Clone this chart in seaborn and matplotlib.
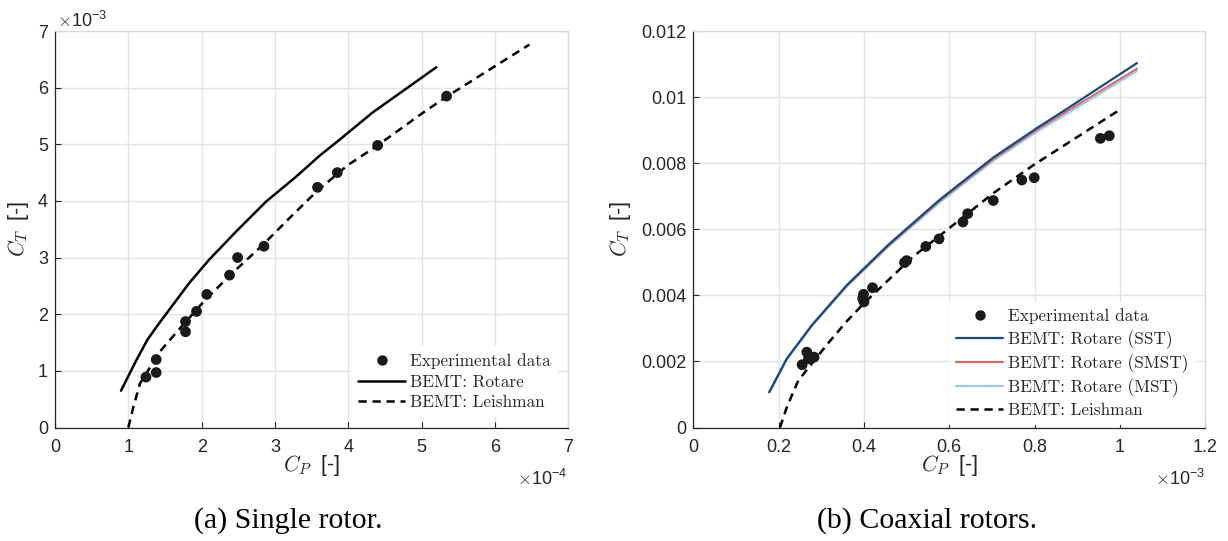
import matplotlib
matplotlib.use("Agg")
import matplotlib.pyplot as plt
from matplotlib.lines import Line2D
from matplotlib.ticker import FuncFormatter, MultipleLocator
import seaborn as sns

# ---------------- single rotor (C_P in 1e-4, C_T in 1e-3) ----------------
single_exp_cp = [1.24, 1.38, 1.38, 1.78, 1.78, 1.93, 2.07, 2.38, 2.49, 2.85,
                 3.58, 3.85, 4.40, 5.34]
single_exp_ct = [0.89, 0.97, 1.20, 1.69, 1.87, 2.05, 2.35, 2.69, 3.00, 3.20,
                 4.24, 4.50, 4.98, 5.85]

single_rotare_cp = [0.90, 1.11, 1.26, 1.42, 1.83, 2.10, 2.47, 2.88, 3.29,
                    3.61, 3.88, 4.33, 5.20]
single_rotare_ct = [0.65, 1.19, 1.55, 1.84, 2.55, 2.96, 3.46, 3.99, 4.43,
                    4.80, 5.08, 5.56, 6.36]

single_leish_cp = [1.00, 1.07, 1.16, 1.43, 1.65, 2.06, 2.48, 2.84, 3.20,
                   3.57, 3.99, 4.40, 5.01, 5.34, 5.83, 6.47]
single_leish_ct = [0.00, 0.37, 0.78, 1.34, 1.67, 2.27, 2.80, 3.23, 3.70,
                   4.17, 4.63, 4.98, 5.55, 5.84, 6.24, 6.76]

# ---------------- coaxial rotors (C_P in 1e-3, C_T in 1e-3) ----------------
coax_exp_cp = [0.255, 0.266, 0.270, 0.283, 0.397, 0.399, 0.400, 0.420, 0.495,
               0.500, 0.545, 0.576, 0.632, 0.643, 0.703, 0.770, 0.799, 0.954,
               0.975]
coax_exp_ct = [1.90, 2.28, 2.08, 2.13, 3.91, 4.03, 3.80, 4.23, 4.99,
               5.05, 5.48, 5.71, 6.22, 6.47, 6.87, 7.49, 7.56, 8.75,
               8.83]

coax_rotare_cp = [0.178, 0.219, 0.278, 0.360, 0.457, 0.578, 0.703, 0.805,
                  0.868, 1.040]
coax_sst_ct = [1.07, 2.08, 3.10, 4.31, 5.53, 6.90, 8.17, 9.06, 9.58, 11.03]
coax_smst_ct = [1.07, 2.08, 3.09, 4.29, 5.50, 6.86, 8.12, 9.01, 9.51, 10.86]
coax_mst_ct = [1.06, 2.06, 3.07, 4.27, 5.47, 6.82, 8.07, 8.95, 9.44, 10.79]

coax_leish_cp = [0.2033, 0.219, 0.246, 0.314, 0.360, 0.400, 0.453, 0.516,
                 0.586, 0.704, 0.797, 1.000]
coax_leish_ct = [0.00, 0.61, 1.42, 2.52, 3.22, 3.76, 4.41, 5.18,
                 5.89, 7.10, 7.94, 9.62]

single_labels = ["Experimental data", "BEMT: Rotare", "BEMT: Leishman"]
coax_labels = ["Experimental data", "BEMT: Rotare (SST)",
               "BEMT: Rotare (SMST)", "BEMT: Rotare (MST)", "BEMT: Leishman"]

# ---------------- styling ----------------
sns.set_theme(style="whitegrid")
plt.rcParams["font.family"] = ["Liberation Sans", "DejaVu Sans"]
plt.rcParams["mathtext.fontset"] = "cm"

INK = "#262626"
DOT = "#1a1a1a"
GRID = "#e3e3e3"
SST_C = "#174b7c"
SMST_C = "#d36b6b"
MST_C = "#a3c7e6"
DASH = (3.3, 2.3)

W, H = 1228, 541
fig = plt.figure(figsize=(W / 100, H / 100), dpi=100)
fig.patch.set_facecolor("white")


def px_axes(x0, x1, y_top, y_bot):
    return fig.add_axes([x0 / W, 1 - y_bot / H, (x1 - x0) / W, (y_bot - y_top) / H])


ax1 = px_axes(55, 568.3, 31, 427.5)
ax2 = px_axes(693.3, 1205.3, 31, 427.5)


def style_axes(ax):
    ax.set_facecolor("white")
    ax.grid(True, color=GRID, linewidth=1.0)
    ax.set_axisbelow(True)
    for side in ("left", "bottom"):
        ax.spines[side].set_color(INK)
        ax.spines[side].set_linewidth(0.9)
    for side in ("top", "right"):
        ax.spines[side].set_color("#d8d8d8")
        ax.spines[side].set_linewidth(0.9)
    ax.tick_params(axis="both", direction="in", length=4, width=0.8,
                   color=INK, labelcolor=INK, labelsize=13,
                   top=False, right=False, bottom=True, left=True)
    ax.tick_params(axis="x", pad=8)
    ax.tick_params(axis="y", pad=5)


# ---------------- (a) single rotor ----------------
style_axes(ax1)
sns.lineplot(x=single_rotare_cp, y=single_rotare_ct, ax=ax1, color="black",
             linewidth=1.8, sort=False, estimator=None, zorder=3)
sns.lineplot(x=single_leish_cp, y=single_leish_ct, ax=ax1, color="black",
             linewidth=1.8, sort=False, estimator=None, zorder=3)
ax1.lines[-1].set_dashes(DASH)
sns.scatterplot(x=single_exp_cp, y=single_exp_ct, ax=ax1, s=60, color=DOT,
                edgecolor="none", linewidth=0, zorder=5)
ax1.set_xlim(0, 7)
ax1.set_ylim(0, 7)
ax1.xaxis.set_major_locator(MultipleLocator(1))
ax1.yaxis.set_major_locator(MultipleLocator(1))
ax1.xaxis.set_major_formatter(FuncFormatter(lambda v, p: f"{v:g}"))
ax1.yaxis.set_major_formatter(FuncFormatter(lambda v, p: f"{v:g}"))

# ---------------- (b) coaxial rotors ----------------
style_axes(ax2)
sns.lineplot(x=coax_rotare_cp, y=coax_mst_ct, ax=ax2, color=MST_C,
             linewidth=1.6, sort=False, estimator=None, zorder=3)
sns.lineplot(x=coax_rotare_cp, y=coax_smst_ct, ax=ax2, color=SMST_C,
             linewidth=1.4, sort=False, estimator=None, zorder=3)
sns.lineplot(x=coax_rotare_cp, y=coax_sst_ct, ax=ax2, color=SST_C,
             linewidth=1.6, sort=False, estimator=None, zorder=3)
sns.lineplot(x=coax_leish_cp, y=coax_leish_ct, ax=ax2, color="black",
             linewidth=1.8, sort=False, estimator=None, zorder=3)
ax2.lines[-1].set_dashes(DASH)
sns.scatterplot(x=coax_exp_cp, y=coax_exp_ct, ax=ax2, s=60, color=DOT,
                edgecolor="none", linewidth=0, zorder=5)
ax2.set_xlim(0, 1.2)
ax2.set_ylim(0, 12)
ax2.xaxis.set_major_locator(MultipleLocator(0.2))
ax2.yaxis.set_major_locator(MultipleLocator(2))
ax2.xaxis.set_major_formatter(FuncFormatter(lambda v, p: f"{v:g}"))
ax2.yaxis.set_major_formatter(FuncFormatter(lambda v, p: f"{v / 1000:g}"))

# ---------------- axis labels ----------------
for ax, ylab_x in ((ax1, -0.072), (ax2, -0.143)):
    ax.set_xlabel(r"$C_P\;$ [-]", fontsize=15.5, color=INK)
    ax.set_ylabel(r"$C_T\;$ [-]", fontsize=15.5, color=INK)
    ax.xaxis.set_label_coords(0.5, -0.097)
    ax.xaxis.label.set_verticalalignment("center")
    ax.yaxis.set_label_coords(ylab_x, 0.5)
    ax.yaxis.label.set_verticalalignment("center")

# scale factors
fig.text(57 / W, 1 - 27 / H, r"$\times\mathregular{10^{-3}}$", fontsize=13,
         color=INK, ha="left", va="baseline")
fig.text(567 / W, 1 - 485 / H, r"$\times\mathregular{10^{-4}}$", fontsize=13,
         color=INK, ha="right", va="baseline")
fig.text(1205 / W, 1 - 485 / H, r"$\times\mathregular{10^{-3}}$", fontsize=13,
         color=INK, ha="right", va="baseline")

# ---------------- legends ----------------
leg_font = {"family": "cmr10", "size": 12.4}


def dot_handle():
    return Line2D([], [], linestyle="none", marker="o", markersize=7.5,
                  markerfacecolor=DOT, markeredgecolor="none")


def line_handle(color, lw, dashed=False):
    h = Line2D([], [], color=color, linewidth=lw)
    if dashed:
        h.set_dashes(DASH)
    return h


legend_style = dict(prop=leg_font, loc="upper left",
                    bbox_transform=fig.transFigure, frameon=True,
                    facecolor="white", edgecolor="none", framealpha=1,
                    fancybox=False, borderpad=0.4, handlelength=2.75,
                    handletextpad=0.3, labelspacing=0.32, borderaxespad=0)

h1 = [dot_handle(), line_handle("black", 1.8), line_handle("black", 1.8, True)]
leg1 = ax1.legend(h1, single_labels, bbox_to_anchor=(351 / W, 1 - 346 / H),
                  **legend_style)

h2 = [dot_handle(), line_handle(SST_C, 1.6), line_handle(SMST_C, 1.6),
      line_handle(MST_C, 1.6), line_handle("black", 1.8, True)]
leg2 = ax2.legend(h2, coax_labels, bbox_to_anchor=(949 / W, 1 - 301.7 / H),
                  **legend_style)
for leg in (leg1, leg2):
    for t in leg.get_texts():
        t.set_color(INK)

# ---------------- captions ----------------
fig.text(288 / W, 1 - 521 / H, "(a) Single rotor.", fontsize=21.5,
         family="Liberation Serif", color="black", ha="center", va="center")
fig.text(927 / W, 1 - 521 / H, "(b) Coaxial rotors.", fontsize=21.5,
         family="Liberation Serif", color="black", ha="center", va="center")

fig.savefig("out.png", dpi=100, facecolor="white")
